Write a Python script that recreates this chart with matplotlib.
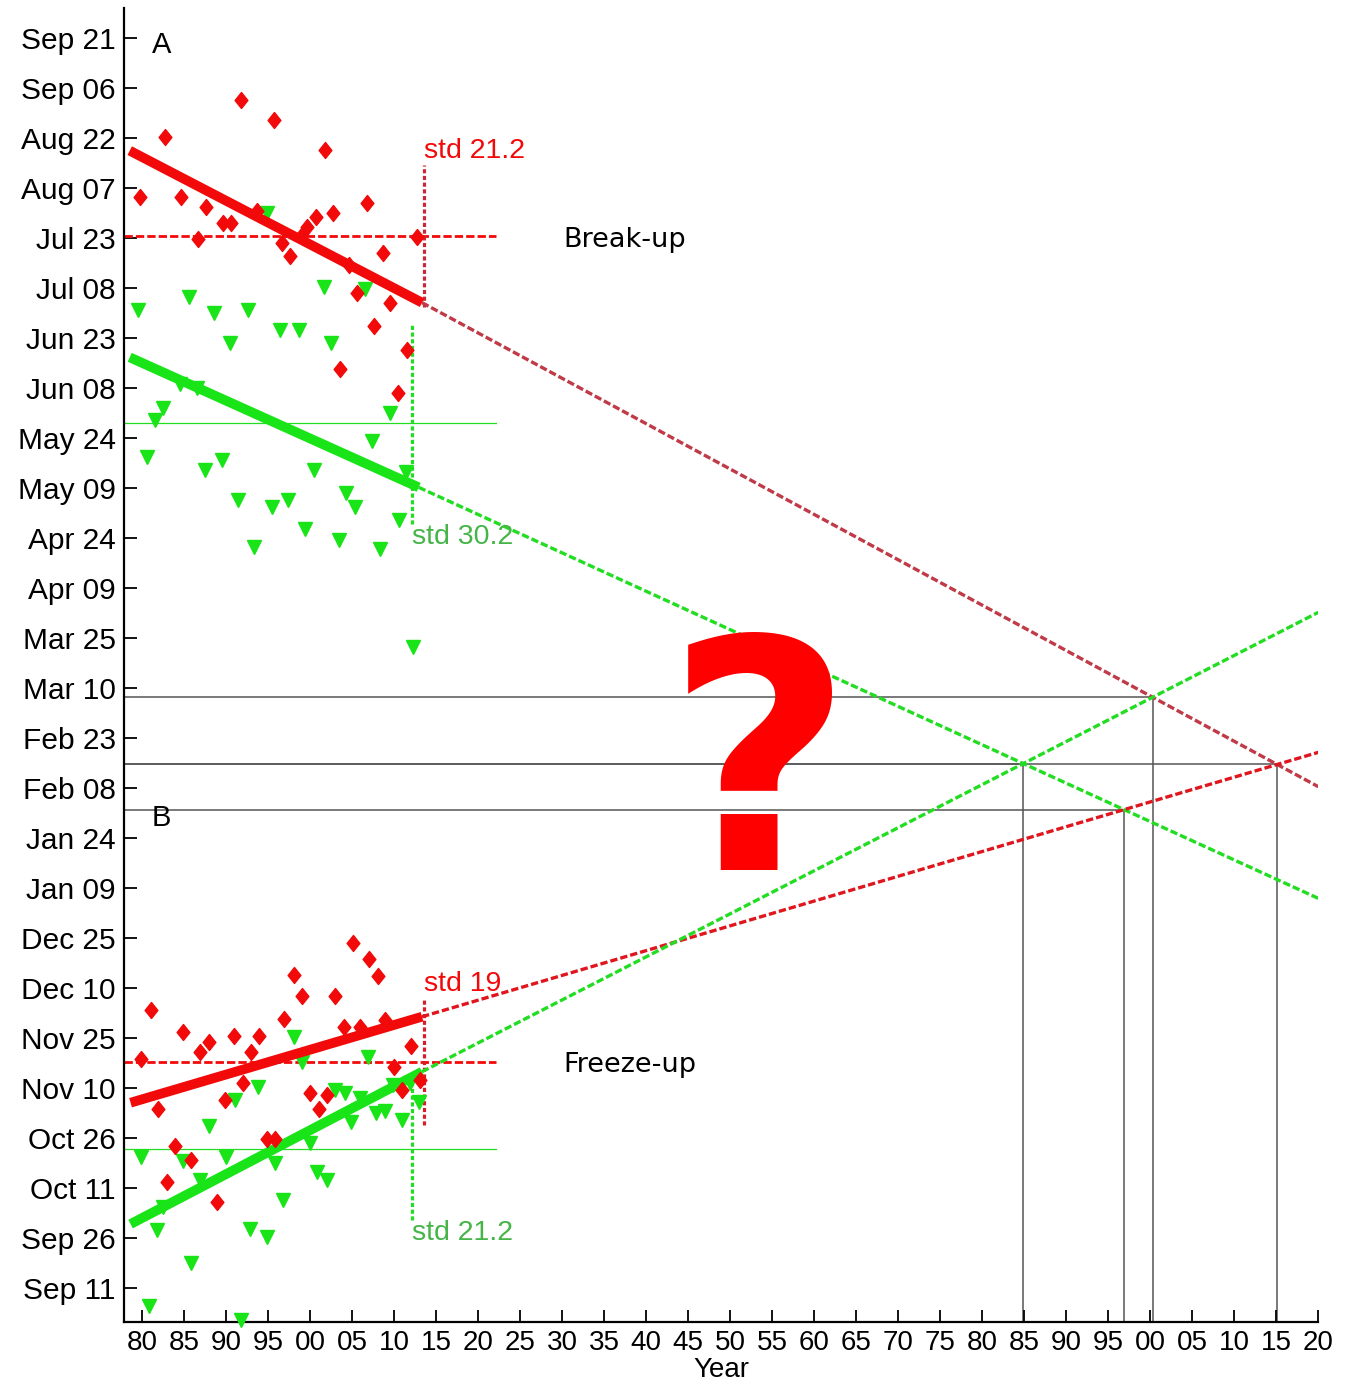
import matplotlib.pyplot as plt
from matplotlib.path import Path

# y axis: days counted from Sep 11, x axis: year
day_ticks = list(range(0, 376, 15))
day_labels = ['Sep 11', 'Sep 26', 'Oct 11', 'Oct 26', 'Nov 10', 'Nov 25', 'Dec 10',
              'Dec 25', 'Jan 09', 'Jan 24', 'Feb 08', 'Feb 23', 'Mar 10', 'Mar 25',
              'Apr 09', 'Apr 24', 'May 09', 'May 24', 'Jun 08', 'Jun 23', 'Jul 08',
              'Jul 23', 'Aug 07', 'Aug 22', 'Sep 06', 'Sep 21']
year_ticks = list(range(1980, 2121, 5))
year_labels = ['%02d' % (y % 100) for y in year_ticks]

# break-up (A)
break_red_x = [1979.7, 1982.7, 1984.6, 1986.6, 1987.6, 1989.6, 1990.6, 1991.7, 1993.6,
               1995.7, 1996.6, 1997.6, 1999.0, 1999.6, 2000.7, 2001.8, 2002.7, 2003.5,
               2004.6, 2005.6, 2006.7, 2007.6, 2008.7, 2009.5, 2010.4, 2011.5, 2012.7]
break_red_y = [327.5, 345.5, 327.5, 314.7, 324.5, 319.7, 319.7, 356.5, 323.3,
               350.5, 313.5, 309.7, 316.0, 318.3, 321.5, 341.5, 322.7, 275.7,
               307.0, 298.5, 325.5, 288.7, 310.5, 295.7, 268.5, 281.5, 315.5]
break_green_x = [1979.5, 1980.5, 1981.5, 1982.5, 1984.5, 1985.5, 1986.5, 1987.5, 1988.5,
                 1989.5, 1990.4, 1991.4, 1992.6, 1993.3, 1994.8, 1995.4, 1996.4, 1997.4,
                 1998.6, 1999.4, 2000.4, 2001.6, 2002.5, 2003.4, 2004.3, 2005.3, 2006.5,
                 2007.4, 2008.3, 2009.5, 2010.5, 2011.4, 2012.2]
break_green_y = [293.5, 249.5, 260.5, 264.2, 271.2, 297.5, 270.2, 245.5, 292.5,
                 248.5, 283.5, 236.5, 293.5, 222.5, 322.5, 234.5, 287.4, 236.5,
                 287.4, 227.7, 245.5, 300.5, 283.5, 224.5, 238.7, 234.5, 299.7,
                 254.3, 221.7, 262.5, 230.5, 245.0, 192.5]

# freeze-up (B)
freeze_red_x = [1979.9, 1981.0, 1981.9, 1982.9, 1983.9, 1984.9, 1985.8, 1986.9, 1987.9,
                1988.9, 1989.9, 1990.9, 1992.0, 1992.9, 1993.9, 1994.8, 1995.8, 1996.9,
                1998.0, 1999.0, 2000.0, 2001.0, 2002.0, 2002.9, 2004.0, 2005.1, 2005.9,
                2007.0, 2008.0, 2008.9, 2010.0, 2010.9, 2012.0, 2013.1]
freeze_red_y = [68.7, 83.5, 53.7, 32.0, 42.8, 76.8, 38.5, 71.0, 73.8,
                25.8, 56.5, 75.8, 61.5, 70.8, 75.8, 44.7, 44.7, 80.7,
                94.0, 87.7, 58.7, 53.7, 58.0, 87.7, 78.5, 103.7, 78.3,
                98.7, 93.7, 80.5, 66.5, 59.5, 72.7, 62.5]
freeze_green_x = [1979.8, 1980.8, 1981.8, 1982.5, 1984.9, 1985.8, 1986.9, 1987.9, 1990.0,
                  1991.0, 1991.7, 1992.8, 1993.8, 1994.8, 1995.8, 1996.8, 1998.0, 1999.0,
                  2000.0, 2000.8, 2002.0, 2002.9, 2004.1, 2004.9, 2005.9, 2006.9, 2007.8,
                  2008.9, 2009.9, 2010.9, 2011.9, 2012.9]
freeze_green_y = [39.5, -5.3, 17.6, 24.5, 38.2, 7.5, 32.5, 48.7, 39.5,
                  56.5, -9.5, 17.7, 60.3, 15.3, 37.6, 26.4, 75.5, 68.0,
                  43.5, 35.0, 32.5, 59.5, 58.5, 50.0, 57.0, 69.5, 52.5,
                  53.3, 61.0, 50.5, 61.5, 56.0]

# fitted trends and their dashed extension to 2120
break_red_fit = ([1978.5, 2013.3], [341.3, 295.7])
break_red_ext = ([2013.3, 2120.0], [295.7, 150.5])
break_green_fit = ([1978.5, 2012.9], [279.3, 240.3])
break_green_ext = ([2012.9, 2120.0], [240.3, 117.0])
freeze_red_fit = ([1978.6, 2013.3], [55.7, 81.5])
freeze_red_ext = ([2013.3, 2120.0], [81.5, 160.8])
freeze_green_fit = ([1978.6, 2013.3], [19.3, 65.0])
freeze_green_ext = ([2013.3, 2120.0], [65.0, 202.8])

# mean and std
break_red_mean, break_red_std = 315.7, 21.2
break_green_mean, break_green_std = 259.5, 30.2
freeze_red_mean, freeze_red_std = 68.0, 19
freeze_green_mean, freeze_green_std = 41.7, 21.2
mean_end = 2022.1
red_std_x = 2013.5
green_std_x = 2012.1

RED = '#f20a0a'
DARKRED = '#c03a48'
GREEN = '#18e418'
LGREEN = '#22dd22'
TXTGREEN = '#45b548'
GRAY = '#555555'

X0, X1 = 1977.82, 2120.0
Y0, Y1 = -10.0, 384.0

plt.rcParams['font.family'] = ['Liberation Sans', 'DejaVu Sans']

fig = plt.figure(figsize=(13.51, 13.84), dpi=100)
ax = fig.add_axes([0.0918, 0.045, 0.884, 0.949])

diamond = Path([(0, 1), (0.8, 0), (0, -1), (-0.8, 0), (0, 1)],
               [Path.MOVETO, Path.LINETO, Path.LINETO, Path.LINETO, Path.CLOSEPOLY])


def intersect(a, b):
    (ax0, ax1), (ay0, ay1) = a
    (bx0, bx1), (by0, by1) = b
    sa = (ay1 - ay0) / (ax1 - ax0)
    sb = (by1 - by0) / (bx1 - bx0)
    x = (by0 - ay0 + sa * ax0 - sb * bx0) / (sa - sb)
    return x, ay0 + sa * (x - ax0)


# gray guide lines at crossings of the extensions
for a, b in [(break_green_ext, freeze_green_ext), (break_green_ext, freeze_red_ext),
             (break_red_ext, freeze_green_ext), (break_red_ext, freeze_red_ext)]:
    cx, cy = intersect(a, b)
    ax.plot([X0, cx], [cy, cy], color=GRAY, lw=1.1, zorder=1)
    ax.plot([cx, cx], [Y0, cy], color=GRAY, lw=1.1, zorder=1)

# mean lines
for m in [break_red_mean, freeze_red_mean]:
    ax.plot([X0, mean_end], [m, m], color=RED, lw=2.0, dashes=(3, 1.1), zorder=2)
for m in [break_green_mean, freeze_green_mean]:
    ax.plot([X0, mean_end], [m, m], color=LGREEN, lw=0.9, zorder=2)

# std bars
ax.plot([red_std_x, red_std_x], [break_red_mean - break_red_std, break_red_mean + break_red_std],
        color='#c8283a', lw=2.3, dashes=(1.3, 0.8), zorder=2)
ax.plot([green_std_x, green_std_x], [break_green_mean - break_green_std, break_green_mean + break_green_std],
        color=LGREEN, lw=2.3, dashes=(1.3, 0.8), zorder=2)
ax.plot([red_std_x, red_std_x], [freeze_red_mean - freeze_red_std, freeze_red_mean + freeze_red_std],
        color='#d41e2a', lw=2.3, dashes=(1.3, 0.8), zorder=2)
ax.plot([green_std_x, green_std_x], [freeze_green_mean - freeze_green_std, freeze_green_mean + freeze_green_std],
        color=LGREEN, lw=2.3, dashes=(1.3, 0.8), zorder=2)

# extensions
ax.plot(*break_red_ext, color=DARKRED, lw=2.4, dashes=(2.2, 0.9), zorder=2)
ax.plot(*break_green_ext, color=LGREEN, lw=2.4, dashes=(2.2, 0.9), zorder=2)
ax.plot(*freeze_red_ext, color='#e0161e', lw=2.4, dashes=(2.2, 0.9), zorder=2)
ax.plot(*freeze_green_ext, color=LGREEN, lw=2.4, dashes=(2.2, 0.9), zorder=2)

# observations and trends
ax.plot(break_green_x, break_green_y, linestyle='none', marker='v', ms=10.5, color=GREEN,
        zorder=3, clip_on=False)
ax.plot(freeze_green_x, freeze_green_y, linestyle='none', marker='v', ms=10.5, color=GREEN,
        zorder=3, clip_on=False)
ax.plot(*break_green_fit, color=GREEN, lw=7, solid_capstyle='butt', zorder=4)
ax.plot(*freeze_green_fit, color=GREEN, lw=7, solid_capstyle='butt', zorder=4)
ax.plot(break_red_x, break_red_y, linestyle='none', marker=diamond, ms=11.5, color=RED,
        zorder=5, clip_on=False)
ax.plot(freeze_red_x, freeze_red_y, linestyle='none', marker=diamond, ms=11.5, color=RED,
        zorder=5, clip_on=False)
ax.plot(*break_red_fit, color=RED, lw=7, solid_capstyle='butt', zorder=6)
ax.plot(*freeze_red_fit, color=RED, lw=7, solid_capstyle='butt', zorder=6)

# texts
ax.annotate('std %g' % break_red_std, (red_std_x, break_red_mean + break_red_std),
            xytext=(0, 5), textcoords='offset points', ha='left', va='baseline',
            fontsize=20.5, color=RED)
ax.annotate('std %g' % freeze_red_std, (red_std_x, freeze_red_mean + freeze_red_std),
            xytext=(0, 5), textcoords='offset points', ha='left', va='baseline',
            fontsize=20.5, color=RED)
ax.annotate('std %g' % break_green_std, (green_std_x, break_green_mean - break_green_std),
            xytext=(0, 0), textcoords='offset points', ha='left', va='top',
            fontsize=20.5, color=TXTGREEN)
ax.annotate('std %g' % freeze_green_std, (green_std_x, freeze_green_mean - freeze_green_std),
            xytext=(0, 0), textcoords='offset points', ha='left', va='top',
            fontsize=20.5, color=TXTGREEN)
ax.text(1982.3, 373, 'A', fontsize=21, ha='center', va='center')
ax.text(1982.3, 141, 'B', fontsize=21, ha='center', va='center')
ax.text(2030.1, 314.5, 'Break-up', fontsize=19.5, ha='left', va='center', family='DejaVu Sans')
ax.text(2030.1, 67, 'Freeze-up', fontsize=19.5, ha='left', va='center', family='DejaVu Sans')
ax.text(2053.5, 125.5, '?', fontsize=232, fontweight='bold', color='#ff0000',
        family='DejaVu Sans', ha='center', va='baseline', zorder=7)

ax.set_xlim(X0, X1)
ax.set_ylim(Y0, Y1)
ax.set_xticks(year_ticks)
ax.set_xticklabels(year_labels)
ax.set_yticks(day_ticks)
ax.set_yticklabels(day_labels)
ax.tick_params(direction='in', length=9, width=1.3, labelsize=20, pad=6)
ax.tick_params(axis='y', labelsize=21.5)
ax.spines['top'].set_visible(False)
ax.spines['right'].set_visible(False)
ax.spines['left'].set_linewidth(1.6)
ax.spines['bottom'].set_linewidth(1.6)
ax.set_xlabel('Year', fontsize=20, labelpad=1)

fig.savefig('out.png', dpi=100)
